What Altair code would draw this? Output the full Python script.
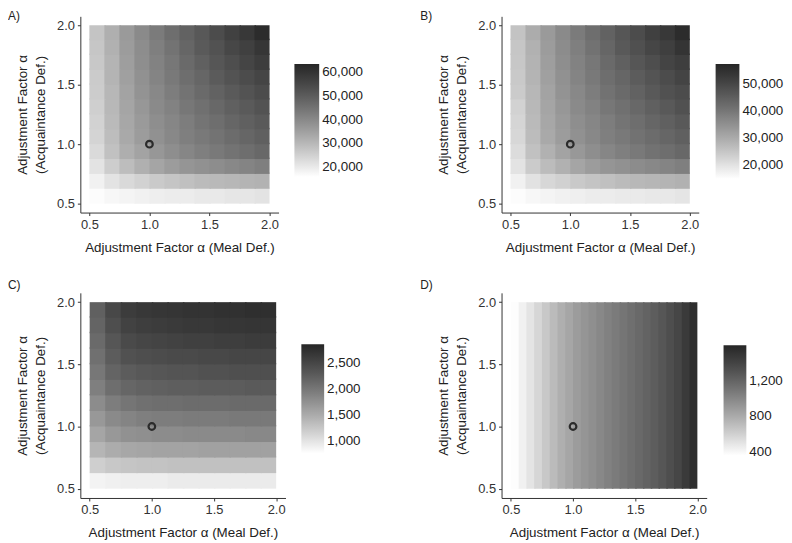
import altair as alt
import numpy as np
import pandas as pd

FONT = "Liberation Sans"
X_TITLE = "Adjustment Factor α (Meal Def.)"
Y_TITLE = ["Adjustment Factor α", "(Acquaintance Def.)"]

alpha_ticks = [0.5, 1.0, 1.5, 2.0]
ref_point_x = [1.0]
ref_point_y = [1.0]

# Panel A values (thousands); rows: acquaintance alpha 2.0 (top) -> 0.5 (bottom); cols: meal alpha 0.5 -> 2.0
A_vals = [
    [27.7, 32.0, 36.4, 39.7, 43.0, 45.9, 48.7, 51.0, 53.8, 56.5, 58.8, 61.8],
    [27.2, 31.5, 35.9, 39.2, 42.1, 44.9, 47.8, 50.6, 52.4, 55.1, 56.9, 59.3],
    [26.8, 31.0, 35.4, 38.8, 41.6, 44.0, 46.8, 49.2, 51.4, 53.4, 55.5, 57.4],
    [26.3, 30.8, 35.0, 38.3, 41.1, 43.5, 45.9, 47.8, 50.2, 52.1, 53.8, 55.6],
    [26.1, 30.3, 34.5, 37.8, 40.2, 42.6, 44.9, 46.8, 48.7, 50.6, 52.2, 53.8],
    [25.4, 30.1, 34.0, 36.9, 39.7, 41.6, 44.0, 45.4, 47.3, 49.2, 50.6, 52.2],
    [24.9, 29.6, 33.5, 36.4, 38.8, 40.7, 42.6, 44.5, 45.9, 47.8, 49.2, 50.6],
    [24.5, 29.1, 33.1, 35.9, 38.3, 40.2, 42.1, 43.5, 44.9, 46.4, 47.8, 49.2],
    [23.2, 28.2, 32.1, 34.5, 36.9, 38.8, 40.7, 42.1, 43.5, 44.9, 45.9, 47.3],
    [21.5, 25.8, 29.1, 31.8, 34.0, 35.9, 37.3, 38.3, 39.2, 40.2, 41.1, 42.1],
    [18.7, 21.4, 23.4, 24.9, 26.4, 27.5, 28.4, 29.4, 29.8, 30.3, 30.8, 31.3],
    [16.6, 17.6, 18.1, 18.6, 19.2, 19.6, 19.6, 20.2, 20.2, 20.8, 20.8, 21.4],
]

# Panel B values (thousands)
B_vals = [
    [25.4, 29.7, 33.1, 36.1, 39.1, 41.6, 44.2, 46.7, 48.8, 51.3, 53.2, 56.0],
    [25.0, 28.8, 32.7, 35.7, 38.2, 40.8, 43.3, 45.9, 48.0, 50.1, 51.5, 54.0],
    [24.8, 28.4, 32.3, 35.3, 37.8, 39.9, 42.5, 44.6, 46.7, 48.4, 50.5, 51.9],
    [24.3, 28.2, 31.9, 34.8, 37.4, 39.5, 41.6, 43.3, 45.4, 47.1, 48.8, 50.5],
    [24.1, 27.7, 31.4, 34.4, 36.5, 38.7, 40.8, 42.5, 44.2, 45.9, 47.6, 48.8],
    [22.7, 27.5, 31.0, 33.6, 36.1, 37.8, 39.9, 41.2, 42.9, 44.6, 45.9, 47.6],
    [22.3, 27.1, 30.6, 33.1, 35.3, 37.0, 38.7, 40.4, 41.6, 43.3, 44.6, 45.9],
    [21.9, 26.7, 30.2, 32.7, 34.8, 36.5, 38.2, 39.5, 40.8, 42.1, 43.3, 44.6],
    [21.0, 25.8, 28.8, 31.4, 33.5, 35.3, 37.0, 38.2, 39.5, 40.8, 41.6, 42.9],
    [19.7, 24.1, 26.7, 28.8, 31.0, 32.7, 34.0, 34.8, 35.7, 36.5, 37.4, 38.2],
    [17.2, 19.9, 21.8, 23.0, 24.4, 25.3, 26.1, 27.0, 27.4, 27.8, 28.2, 28.7],
    [15.4, 16.3, 16.8, 17.2, 17.7, 18.1, 18.1, 18.5, 18.5, 18.9, 18.9, 19.4],
]

# Panel C values
C_vals = [
    [2236, 2489, 2616, 2659, 2680, 2701, 2722, 2722, 2743, 2743, 2764, 2764],
    [2193, 2426, 2553, 2595, 2616, 2637, 2659, 2659, 2680, 2680, 2701, 2701],
    [2130, 2341, 2468, 2510, 2532, 2553, 2574, 2574, 2595, 2595, 2616, 2616],
    [2066, 2278, 2384, 2426, 2447, 2468, 2468, 2489, 2489, 2510, 2510, 2510],
    [2003, 2193, 2278, 2320, 2341, 2362, 2362, 2384, 2384, 2405, 2405, 2405],
    [1918, 2087, 2172, 2214, 2236, 2257, 2257, 2278, 2278, 2278, 2299, 2299],
    [1791, 1939, 2024, 2066, 2087, 2087, 2109, 2109, 2109, 2130, 2130, 2130],
    [1686, 1813, 1876, 1918, 1939, 1939, 1961, 1961, 1961, 1982, 1982, 1982],
    [1559, 1686, 1749, 1770, 1791, 1791, 1813, 1813, 1813, 1813, 1834, 1834],
    [1411, 1495, 1538, 1559, 1580, 1580, 1580, 1601, 1601, 1601, 1601, 1601],
    [1178, 1241, 1263, 1284, 1284, 1305, 1305, 1305, 1305, 1305, 1305, 1305],
    [861, 882, 903, 903, 903, 924, 924, 924, 924, 924, 924, 924],
]

# Panel D values (vary with meal alpha only)
D_vals = [
    [379, 435, 505, 575, 645, 715, 780, 830, 880, 918, 955, 992,
     1030, 1066, 1102, 1137, 1172, 1207, 1242, 1285, 1330, 1385, 1460, 1540],
]

A_domain = [15960, 63460]
B_domain = [14850, 57350]
C_domain = [755, 2870]
D_domain = [367, 1593]

A_legend = [20000, 30000, 40000, 50000, 60000]
B_legend = [20000, 30000, 40000, 50000]
C_legend = [1000, 1500, 2000, 2500]
D_legend = [400, 800, 1200]


def make_grid(vals, mult, lo=0.5, hi=2.0):
    nrow, ncol = len(vals), len(vals[0])
    xe = np.linspace(lo, hi, ncol + 1)
    ye = np.linspace(hi, lo, nrow + 1)
    eps = 0.012
    recs = []
    for r in reversed(range(nrow)):
        for c in range(ncol):
            recs.append(dict(
                x0=xe[c], x1=min(xe[c + 1] + eps, hi),
                y0=ye[r + 1], y1=min(ye[r] + eps, hi),
                v=vals[r][c] * mult,
            ))
    return pd.DataFrame(recs)


def panel(label, df, dom, lvals, lx, ly, glen, gthick, w, h, label_dx, label_dy):
    xs = alt.Scale(domain=[0.425, 2.075], nice=False, zero=False)
    ys = alt.Scale(domain=[0.425, 2.075], nice=False, zero=False)
    xenc = alt.X("x0:Q", scale=xs,
                 axis=alt.Axis(values=alpha_ticks, format=".1f", title=X_TITLE))
    yenc = alt.Y("y0:Q", scale=ys,
                 axis=alt.Axis(values=alpha_ticks, format=".1f", title=Y_TITLE))
    heat = alt.Chart(df).mark_rect(strokeWidth=0).encode(
        x=xenc, x2="x1:Q", y=yenc, y2="y1:Q",
        color=alt.Color(
            "v:Q",
            scale=alt.Scale(domain=dom, range=["#ffffff", "#262626"], interpolate="lab", nice=False),
            legend=alt.Legend(
                title=None, orient="none", legendX=lx, legendY=ly, direction="vertical",
                values=lvals, format=",.0f", gradientLength=glen, gradientThickness=gthick,
                gradientStrokeWidth=0, labelOffset=3,
            ),
        ),
    )
    pt = alt.Chart(pd.DataFrame({"x0": ref_point_x, "y0": ref_point_y})).mark_point(
        shape="circle", filled=False, size=45, strokeWidth=2.2, color="#2b2b2b", opacity=1
    ).encode(x=xenc, y=yenc)
    lab = alt.Chart(pd.DataFrame({"t": [label]})).mark_text(
        align="left", baseline="top", fontSize=12, font=FONT, color="#222"
    ).encode(text="t:N", x=alt.value(label_dx), y=alt.value(label_dy))
    return alt.layer(heat, pt, lab).properties(width=w, height=h)


pA = panel("A)", make_grid(A_vals, 1000), A_domain, A_legend, 216, 48, 114, 25, 200, 198, -73, -5)
pB = panel("B)", make_grid(B_vals, 1000), B_domain, B_legend, 216, 48, 116, 24, 199, 198, -82, -5)
pC = panel("C)", make_grid(C_vals, 1), C_domain, C_legend, 223, 52, 110, 23, 207, 207, -73, -13)
pD = panel("D)", make_grid(D_vals, 1), D_domain, D_legend, 224, 53, 111, 23, 207, 207, -82, -13)

chart = alt.concat(
    pA, pB, pC, pD, columns=2,
    spacing={"row": 81, "column": 218}, bounds="flush", align="each",
).resolve_scale(
    color="independent", x="independent", y="independent"
).properties(
    padding={"left": 0, "top": 0, "right": 0, "bottom": 0}
).configure(
    font=FONT, background="white"
).configure_view(
    stroke=None
).configure_axis(
    grid=False, labelFont=FONT, labelFontSize=13, labelColor="#333",
    titleFont=FONT, titleFontSize=13.5, titleFontWeight="normal", titleColor="#222",
    domainColor="#333", tickColor="#333", tickSize=3, labelPadding=3,
    titlePadding=9, titleLineHeight=18,
).configure_legend(
    labelFont=FONT, labelFontSize=13.5, labelColor="#222", padding=0,
)

chart.save("out.html", embed_options={"renderer": "svg", "actions": False})
